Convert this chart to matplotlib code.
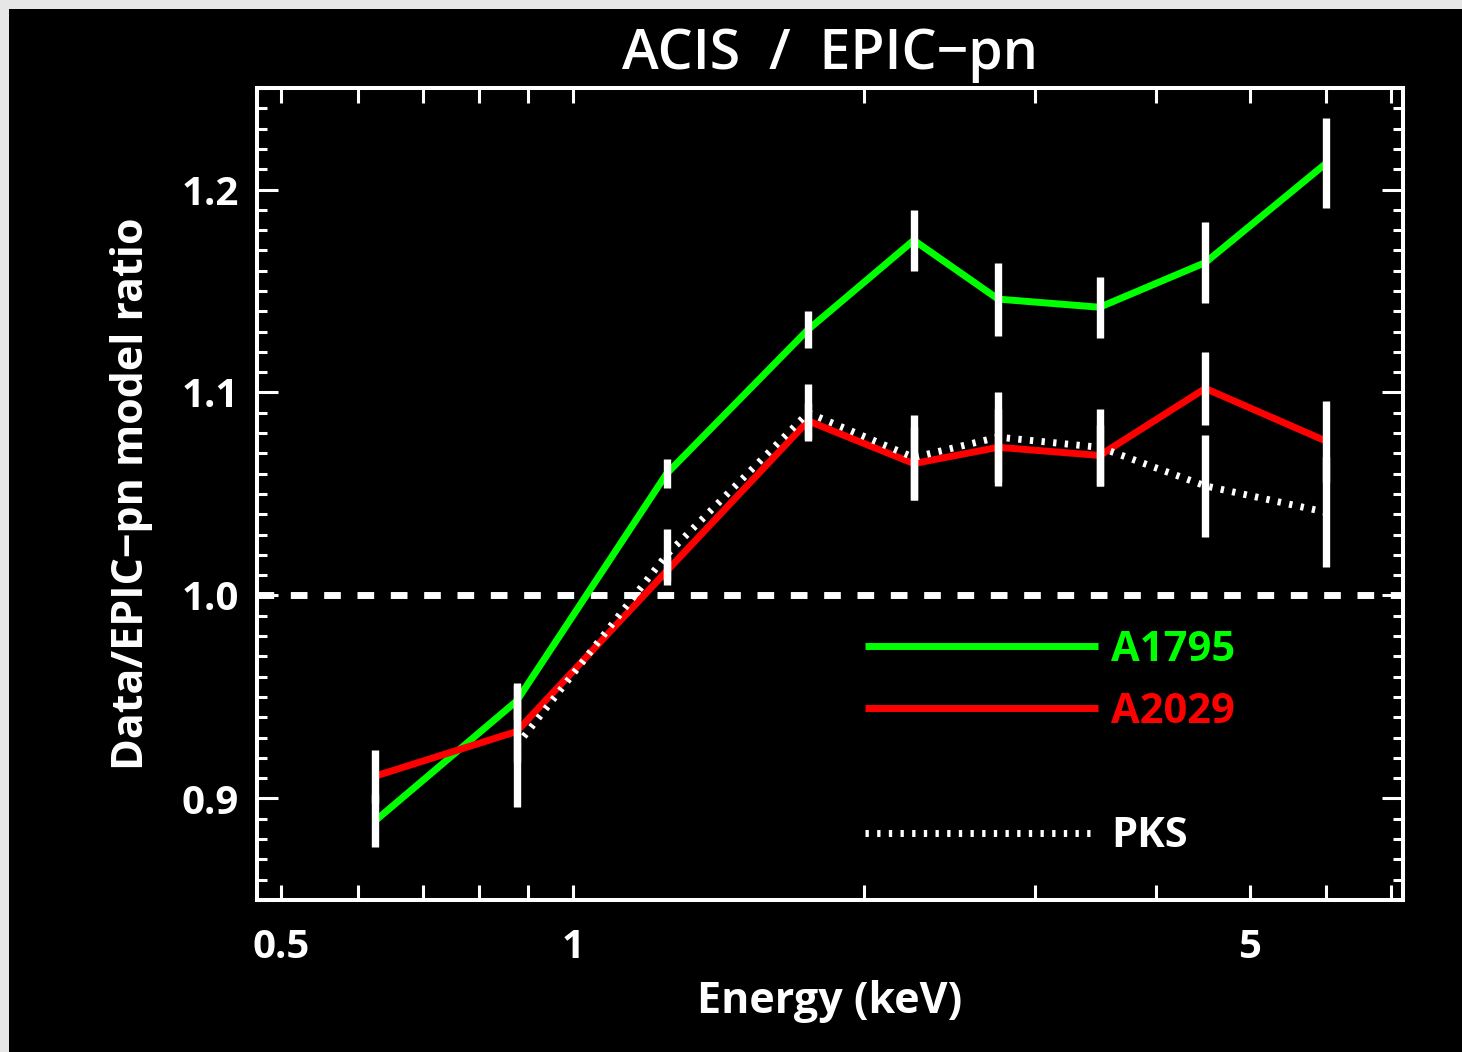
import numpy as np
import matplotlib
matplotlib.use("Agg")
import matplotlib.pyplot as plt
from matplotlib.lines import Line2D
from matplotlib.patches import Rectangle
from matplotlib.ticker import MultipleLocator, NullLocator, FixedLocator

# ---- data ----
energy = [0.625, 0.875, 1.25, 1.75, 2.25, 2.75, 3.5, 4.5, 6.0]
a1795 = [0.889, 0.948, 1.060, 1.131, 1.175, 1.146, 1.142, 1.164, 1.213]
a1795_err = [0.013, 0.009, 0.007, 0.009, 0.015, 0.018, 0.015, 0.020, 0.022]
a2029 = [0.911, 0.933, 1.012, 1.086, 1.065, 1.073, 1.069, 1.102, 1.076]
a2029_err = [0.013, 0.015, 0.007, 0.009, 0.018, 0.019, 0.015, 0.018, 0.020]
pks = [np.nan, 0.926, 1.020, 1.090, 1.068, 1.078, 1.073, 1.054, 1.041]
pks_err = [np.nan, 0.030, 0.013, 0.014, 0.021, 0.022, 0.019, 0.025, 0.027]

xticks = [0.5, 0.6, 0.7, 0.8, 0.9, 1, 2, 3, 4, 5, 6, 7]
xticklabels = ["0.5", "", "", "", "", "1", "", "", "", "5", "", ""]
yticks = [0.9, 1.0, 1.1, 1.2]
yticklabels = ["0.9", "1.0", "1.1", "1.2"]
xlim = (0.472, 7.2)
ylim = (0.85, 1.25)
reference_level = 1.0

title = "ACIS  /  EPIC\u2212pn"
xlabel = "Energy (keV)"
ylabel = "Data/EPIC\u2212pn model ratio"
labels = ["A1795", "A2029", "PKS"]
colors = ["#00ff00", "#ff0000", "white"]

FONT = ["Open Sans", "DejaVu Sans"]
plt.rcParams["font.family"] = FONT

fig = plt.figure(figsize=(14.62, 10.52), dpi=100, facecolor="#e6e6e6")
fig.patches.append(Rectangle((9 / 1462, 0), 1, 1 - 9 / 1052, transform=fig.transFigure,
                             facecolor="black", edgecolor="none", zorder=-10))
ax = fig.add_axes([257 / 1462, 1 - 900 / 1052, (1403 - 257) / 1462, (900 - 88) / 1052])
ax.set_facecolor("black")

ax.set_xscale("log")
ax.set_xlim(*xlim)
ax.set_ylim(*ylim)

lw = 5
ax.axhline(reference_level, color="white", lw=lw, linestyle=(0, (2.4, 2.4)), zorder=1)

h1, = ax.plot(energy, a1795, color=colors[0], lw=lw, solid_capstyle="butt", zorder=2)
h2, = ax.plot(energy, a2029, color=colors[1], lw=lw, solid_capstyle="butt", zorder=3)
h3, = ax.plot(energy, pks, color=colors[2], lw=lw, linestyle=(0, (0.48, 1.2)), zorder=4)

for vals, errs in [(a1795, a1795_err), (a2029, a2029_err), (pks, pks_err)]:
    ax.errorbar(energy, vals, yerr=errs, fmt="none", ecolor="white", elinewidth=5.3,
                capsize=0, zorder=5)

# axes styling
for s in ax.spines.values():
    s.set_color("white")
    s.set_linewidth(2.9)

ax.xaxis.set_major_locator(FixedLocator(xticks))
ax.set_xticklabels(xticklabels)
ax.xaxis.set_minor_locator(NullLocator())
ax.set_yticks(yticks)
ax.set_yticklabels(yticklabels)
ax.yaxis.set_minor_locator(MultipleLocator(0.01))

ax.tick_params(axis="x", which="major", direction="in", length=10.8, width=2.2,
               colors="white", top=True, bottom=True, pad=20, labelsize=29)
ax.tick_params(axis="y", which="major", direction="in", length=15, width=2.2,
               colors="white", left=True, right=True, pad=13, labelsize=29)
ax.tick_params(axis="y", which="minor", direction="in", length=7.2, width=2.2,
               colors="white", left=True, right=True)
for t in ax.get_xticklabels() + ax.get_yticklabels():
    t.set_fontweight("bold")

ax.set_title(title, color="white", fontsize=40, pad=14, fontweight="semibold")
ax.set_xlabel(xlabel, color="white", fontsize=31, fontweight="bold")
ax.set_ylabel(ylabel, color="white", fontsize=31, fontweight="bold")
ax.xaxis.set_label_coords(0.5, -0.098)
ax.yaxis.set_label_coords(-0.091, 0.5)

blank = Line2D([], [], color="none")
leg = ax.legend([h1, h2, blank, h3], [labels[0], labels[1], " ", labels[2]],
                loc="upper left", bbox_to_anchor=(0.5305, 0.333), frameon=False,
                borderpad=0, borderaxespad=0, handlelength=5.6, handletextpad=0.3,
                labelspacing=0.51, prop={"family": FONT, "weight": "bold", "size": 30},
                labelcolor=[colors[0], colors[1], "white", colors[2]])

fig.savefig("out.png", dpi=100, facecolor=fig.get_facecolor())
